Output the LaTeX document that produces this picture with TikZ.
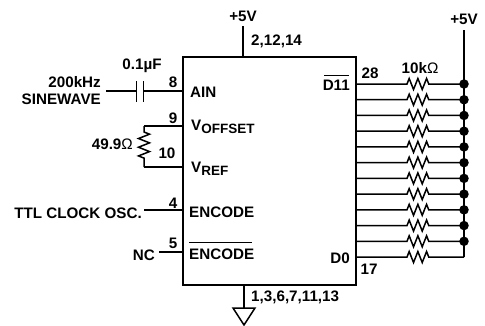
\documentclass[tikz,border=0pt]{standalone}
\usepackage{fontspec}
\setmainfont{Liberation Sans}
\usetikzlibrary{decorations.pathmorphing}
\tikzset{
  wire/.style={line width=1.5pt},
  label/.style={inner sep=0pt,font=\fontsize{15.2}{17}\selectfont\bfseries},
  res/.style={decorate,decoration={zigzag,segment length=8.7pt,amplitude=5.5pt,pre length=#1,post length=#1}},
  dot/.style={circle,fill=black,inner sep=0pt,minimum size=9.5pt}
}
\newcommand{\subtxt}[1]{\raisebox{-0.4ex}{\fontsize{13.5}{14}\selectfont #1}}
\begin{document}
\begin{tikzpicture}[x=1pt,y=-1pt]
  \useasboundingbox (0,0) rectangle (485,325);
  %Chip
  \node[draw,line width=1.9pt,minimum width=173pt,minimum height=228pt,inner sep=0pt] (Chip) at (269.5,171) {};

  %Supply and ground
  \node[label] (Vcc) at (243,16) {+5V};
  \coordinate (VccEnd) at (243,26);
  \coordinate (VccPin) at (243,57);
  \draw[wire] (VccEnd) -- (VccPin);
  \node[label,anchor=west] (VccNum) at (251,41) {2,12,14};
  \coordinate (GndPin) at (244,285);
  \coordinate (GndTop) at (244,308);
  \draw[wire] (GndPin) -- (GndTop);
  \draw[wire] (GndTop) -- ++(-11,0) -- ++(11,17) -- ++(11,-17) -- cycle;
  \node[label,anchor=west] (GndNum) at (251,297) {1,3,6,7,11,13};

  %AIN
  \node[label] (CapVal) at (142,66) {0.1µF};
  \node[label,anchor=east] (SigA) at (101,82) {200kHz};
  \node[label,anchor=east] (SigB) at (101,99) {SINEWAVE};
  \coordinate (SigEnd) at (106,91);
  \coordinate (CapL) at (136.5,91);
  \coordinate (CapR) at (143.5,91);
  \coordinate (AinPin) at (183,91);
  \draw[wire] (SigEnd) -- (CapL);
  \draw[wire] (CapR) -- (AinPin);
  \draw[wire] (136.5,81) -- (136.5,102);
  \draw[wire] (143.5,81) -- (143.5,102);
  \node[label] (Num8) at (173,82) {8};
  \node[label,anchor=west] (Ain) at (190,92) {AIN};

  %Offset resistor
  \coordinate (OffPin) at (183,126);
  \coordinate (OffCorner) at (144,126);
  \coordinate (RefCorner) at (144,167);
  \coordinate (RefPin) at (183,167);
  \draw[wire] (OffPin) -- (OffCorner);
  \draw[wire,res=6pt] (OffCorner) -- (RefCorner);
  \draw[wire] (RefCorner) -- (RefPin);
  \node[label,anchor=east] (OffVal) at (133,144) {49.9\textnormal{Ω}};
  \node[label] (Num9) at (173,118) {9};
  \node[label] (Num10) at (167,153) {10};
  \node[label,anchor=west] (Voff) at (191,127) {V\subtxt{OFFSET}};
  \node[label,anchor=west] (Vref) at (191,169) {V\subtxt{REF}};

  %Encode
  \node[label,anchor=east] (Clk) at (142,213) {TTL CLOCK OSC.};
  \coordinate (ClkEnd) at (144,210);
  \coordinate (EncPin) at (183,210);
  \draw[wire] (ClkEnd) -- (EncPin);
  \node[label] (Num4) at (173,203) {4};
  \node[label,anchor=west] (Enc) at (189,212) {ENCODE};
  \node[label,anchor=east] (Nc) at (155,255) {NC};
  \coordinate (NcEnd) at (159,252);
  \coordinate (EncbPin) at (183,252);
  \draw[wire] (NcEnd) -- (EncbPin);
  \node[label] (Num5) at (173,243) {5};
  \node[label,anchor=west] (Encb) at (189,254) {ENCODE};
  \draw[line width=1pt] (189,242) -- (252,242);

  %Outputs
  \node[label,anchor=east] (Dmsb) at (350,85) {D11};
  \draw[line width=1pt] (324,75) -- (349,75);
  \node[label,anchor=east] (Dlsb) at (350,258) {D0};
  \node[label] (Num28) at (370,73) {28};
  \node[label] (Num17) at (369,269) {17};
  \node[label] (PullVal) at (420,68) {10k\textnormal{Ω}};
  \node[label] (Vpull) at (464,19) {+5V};
  \coordinate (BusTop) at (464,30);
  \foreach \i in {0,...,11} {
    \coordinate (Out\i) at (356,84+15.73*\i);
    \coordinate (Bus\i) at (464,84+15.73*\i);
    \draw[wire,res=0pt,decoration={pre length=51pt,post length=31pt}] (Out\i) -- (Bus\i);
  }
  \draw[wire] (BusTop) -- (Bus11);
  \foreach \i in {0,...,10} {
    \node[dot] (Dot\i) at (Bus\i) {};
  }
\end{tikzpicture}
\end{document}
